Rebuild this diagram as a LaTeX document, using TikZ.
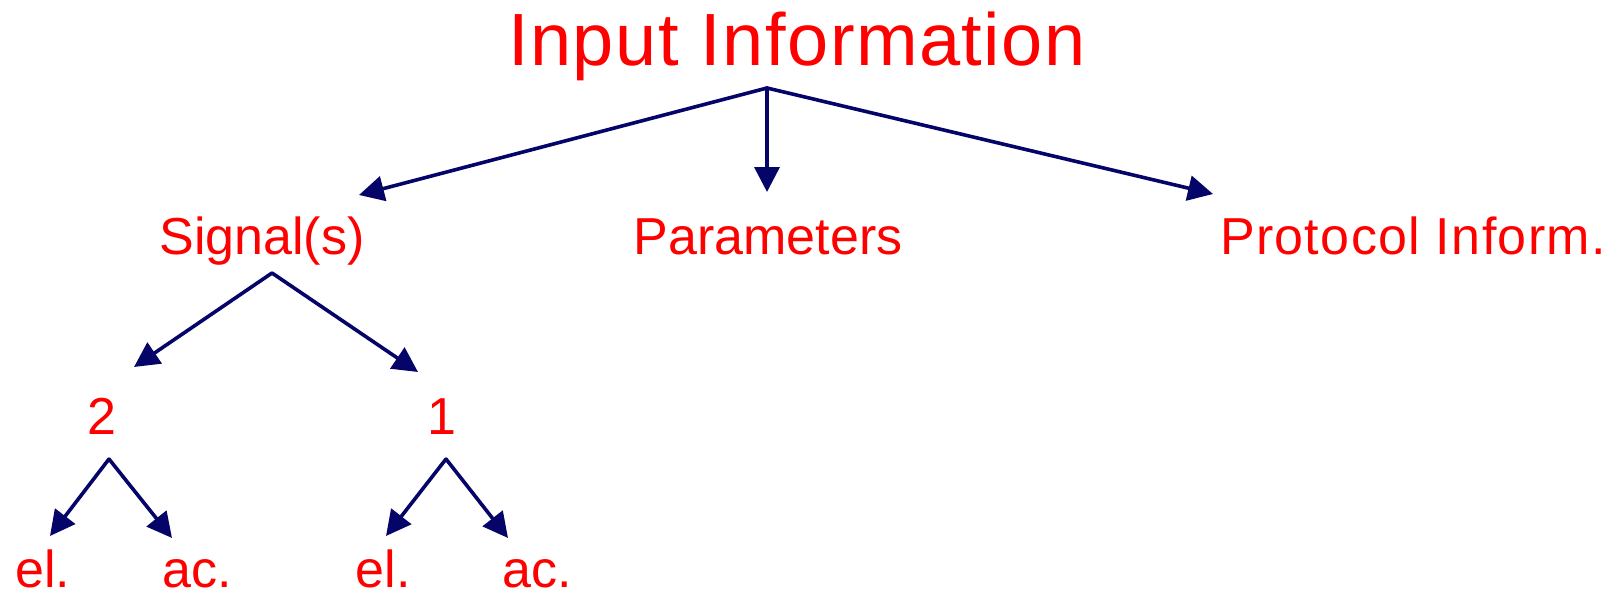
\documentclass[tikz,border=0pt]{standalone}
\usepackage{fontspec}
\setmainfont{Liberation Sans}
\usetikzlibrary{arrows.meta}
\definecolor{navyline}{RGB}{5,5,105}
\definecolor{labelred}{RGB}{255,0,0}
\tikzset{
  lbl/.style={text=labelred, inner sep=0pt, anchor=base, text depth=0pt, font=\fontsize{52}{56}\selectfont},
  ttl/.style={text=labelred, inner sep=0pt, anchor=base, font=\fontsize{74}{80}\selectfont\addfontfeature{LetterSpace=2.0}},
  widelbl/.style={lbl, font=\fontsize{52}{56}\selectfont\addfontfeature{LetterSpace=2.6}},
  conn/.style={draw=navyline, line width=3.6pt, line cap=round, line join=miter,
    arrows={-{Triangle[length=25pt,width=25pt,fill=navyline]}}}
}
\begin{document}
\begin{tikzpicture}[x=1pt,y=-1pt]
\useasboundingbox (0,0) rectangle (1622,591);
% labels
\node[ttl] (title) at (797,66) {Input Information};
\node[lbl] (signal) at (262,254) {Signal(s)};
\node[lbl] (param) at (768,254) {Parameters};
\node[widelbl] (proto) at (1413,254) {Protocol Inform.};
\node[lbl] (two) at (102,434) {2};
\node[lbl] (one) at (442,434) {1};
\node[lbl] (elA) at (43,587) {el.};
\node[lbl] (acA) at (197,587) {ac.};
\node[lbl] (elB) at (383,587) {el.};
\node[lbl] (acB) at (537,587) {ac.};
% junction points and arrow ends
\coordinate (topJ) at (767,88);
\coordinate (sigTip) at (359,195);
\coordinate (parTip) at (767,192);
\coordinate (proTip) at (1213,194);
\coordinate (sigJ) at (272,273);
\coordinate (twoTip) at (134,367);
\coordinate (oneTip) at (418,372);
\coordinate (twoJ) at (109,459);
\coordinate (elATip) at (50,536);
\coordinate (acATip) at (172,538);
\coordinate (oneJ) at (446,459);
\coordinate (elBTip) at (386,536);
\coordinate (acBTip) at (508,538);
% connectors
\draw[conn] (topJ) -- (sigTip);
\draw[conn] (topJ) -- (parTip);
\draw[conn] (topJ) -- (proTip);
\draw[conn] (sigJ) -- (twoTip);
\draw[conn] (sigJ) -- (oneTip);
\draw[conn] (twoJ) -- (elATip);
\draw[conn] (twoJ) -- (acATip);
\draw[conn] (oneJ) -- (elBTip);
\draw[conn] (oneJ) -- (acBTip);
\end{tikzpicture}
\end{document}
